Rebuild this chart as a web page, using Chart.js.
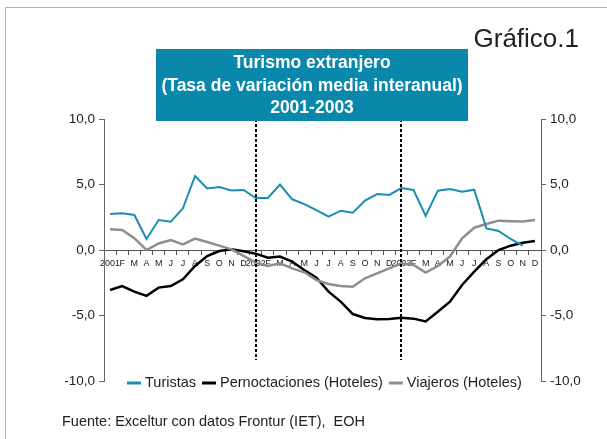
<!DOCTYPE html>
<html>
<head>
<meta charset="utf-8">
<script src="https://cdn.jsdelivr.net/npm/chart.js@4.4.0/dist/chart.umd.min.js"></script>
<style>
  html, body { margin: 0; padding: 0; background: #fff; }
  canvas { display: block; }
</style>
</head>
<body>
<canvas id="grafico" width="607" height="439"></canvas>
<script>
// meses 2001-2003
const meses = ['2001','F','M','A','M','J','J','A','S','O','N','D',
               '2002','F','M','A','M','J','J','A','S','O','N','D',
               '2003','F','M','A','M','J','J','A','S','O','N','D'];

const turistas = [2.75, 2.8, 2.67, 0.84, 2.29, 2.16, 3.18, 5.65, 4.7, 4.8, 4.55, 4.58,
                  3.97, 3.97, 5.0, 3.87, 3.5, 3.05, 2.55, 3.0, 2.85, 3.77, 4.27, 4.2,
                  4.73, 4.58, 2.6, 4.53, 4.65, 4.45, 4.6, 1.65, 1.45, 0.84, 0.33, null];

const pernoctaciones = [-3.05, -2.75, -3.18, -3.5, -2.87, -2.75, -2.24, -1.22, -0.46, -0.08, 0.05, -0.1,
                        -0.28, -0.59, -0.5, -0.89, -1.53, -2.12, -3.18, -3.94, -4.89, -5.19, -5.29, -5.27,
                        -5.17, -5.24, -5.45, -4.71, -3.94, -2.67, -1.65, -0.71, 0.0, 0.33, 0.56, 0.69];

const viajeros = [1.58, 1.53, 0.9, 0.0, 0.5, 0.76, 0.43, 0.87, 0.61, 0.33, 0.05, -0.45,
                  -0.97, -1.22, -1.02, -1.4, -1.7, -2.3, -2.6, -2.75, -2.8, -2.16, -1.78, -1.4,
                  -1.02, -1.15, -1.73, -1.22, -0.5, 0.9, 1.7, 1.98, 2.24, 2.2, 2.18, 2.29];

const yTicks = [-10, -5, 0, 5, 10];
const cortesAnio = [12, 24];        // enero 2002 y enero 2003
const cortesRango = [10, -8.4];     // tramo vertical de las lineas punteadas

const FONT = "'Liberation Sans', Arial, Helvetica, sans-serif";
const TEAL = '#1a8db2';
const GRIS = '#8e8e8e';

const fmt = v => v.toFixed(1).replace('.', ',');

// adornos: marco, titulo, leyenda, fuente
const decor = {
  id: 'decor',
  beforeDraw(chart) {
    const ctx = chart.ctx;
    ctx.save();
    ctx.fillStyle = '#fff';
    ctx.fillRect(0, 0, chart.width, chart.height);
    ctx.strokeStyle = '#8dbbd3';
    ctx.lineWidth = 1;
    ctx.strokeRect(5.5, 7.5, chart.width + 20, chart.height + 20);
    ctx.restore();
  },
  afterDatasetsDraw(chart) {
    const { ctx, scales: { x, y } } = chart;
    ctx.save();
    ctx.strokeStyle = '#000';
    ctx.lineWidth = 2;
    ctx.setLineDash([3, 2]);
    cortesAnio.forEach(i => {
      const px = Math.round(x.getPixelForValue(i));
      ctx.beginPath();
      ctx.moveTo(px, y.getPixelForValue(cortesRango[0]));
      ctx.lineTo(px, y.getPixelForValue(cortesRango[1]));
      ctx.stroke();
    });
    ctx.restore();
  },
  afterDraw(chart) {
    const ctx = chart.ctx;
    ctx.save();

    // Grafico.1
    ctx.fillStyle = '#222';
    ctx.font = '26px ' + FONT;
    ctx.textAlign = 'right';
    ctx.textBaseline = 'alphabetic';
    ctx.fillText('Gráfico.1', 579, 47);

    // caja del titulo
    ctx.fillStyle = '#0a88ab';
    ctx.fillRect(156, 49, 312, 72);
    ctx.fillStyle = '#fff';
    ctx.font = 'bold 17.5px ' + FONT;
    ctx.textAlign = 'center';
    ctx.textBaseline = 'middle';
    ctx.fillText('Turismo extranjero', 312, 63);
    ctx.fillText('(Tasa de variación media interanual)', 312, 86);
    ctx.fillText('2001-2003', 312, 108);

    // leyenda
    ctx.font = '14.5px ' + FONT;
    ctx.textAlign = 'left';
    let lx = 127;
    const ly = 383;
    chart.data.datasets.forEach(ds => {
      ctx.strokeStyle = ds.borderColor;
      ctx.lineWidth = 3;
      ctx.setLineDash([]);
      ctx.beginPath();
      ctx.moveTo(lx, ly);
      ctx.lineTo(lx + 14, ly);
      ctx.stroke();
      lx += 18;
      ctx.fillStyle = '#222';
      ctx.fillText(ds.label, lx, ly);
      lx += ctx.measureText(ds.label).width + 6;
    });

    // fuente
    ctx.fillStyle = '#222';
    ctx.font = '14.5px ' + FONT;
    ctx.fillText('Fuente: Exceltur con datos Frontur (IET),  EOH', 62, 422);
    ctx.restore();
  }
};

const yAxis = (pos, width) => ({
  position: pos,
  min: -10,
  max: 10,
  afterBuildTicks: s => { s.ticks = yTicks.map(v => ({ value: v })); },
  ticks: {
    callback: v => fmt(v),
    color: '#222',
    padding: 4,
    font: { size: 13.5, family: FONT }
  },
  grid: { drawOnChartArea: false, drawTicks: true, tickLength: 5, color: '#666' },
  border: { display: true, color: '#666', width: 1 },
  afterFit: s => { s.width = width; }
});

new Chart(document.getElementById('grafico'), {
  type: 'line',
  data: {
    labels: meses,
    datasets: [
      { label: 'Turistas', data: turistas, borderColor: TEAL, borderWidth: 2, order: 0 },
      { label: 'Pernoctaciones (Hoteles)', data: pernoctaciones, borderColor: '#000', borderWidth: 2.5, order: 2 },
      { label: 'Viajeros (Hoteles)', data: viajeros, borderColor: GRIS, borderWidth: 2.5, order: 1 }
    ]
  },
  options: {
    responsive: false,
    animation: false,
    layout: { padding: { top: 119, bottom: 58, left: 0, right: 0 } },
    elements: {
      point: { radius: 0 },
      line: { tension: 0, fill: false }
    },
    plugins: {
      legend: { display: false },
      tooltip: { enabled: false }
    },
    scales: {
      x: {
        type: 'category',
        position: { y: 0 },
        offset: true,
        grid: { offset: true, drawOnChartArea: false, drawTicks: true, tickLength: 4, color: '#555' },
        border: { display: true, color: '#555', width: 1 },
        ticks: {
          autoSkip: false, maxRotation: 0, minRotation: 0, padding: 4,
          color: '#222', font: { size: 9, family: FONT }
        },
        afterFit: s => { s.height = 0; }
      },
      y: yAxis('left', 104),
      y2: yAxis('right', 66)
    }
  },
  plugins: [decor]
});
</script>
</body>
</html>
